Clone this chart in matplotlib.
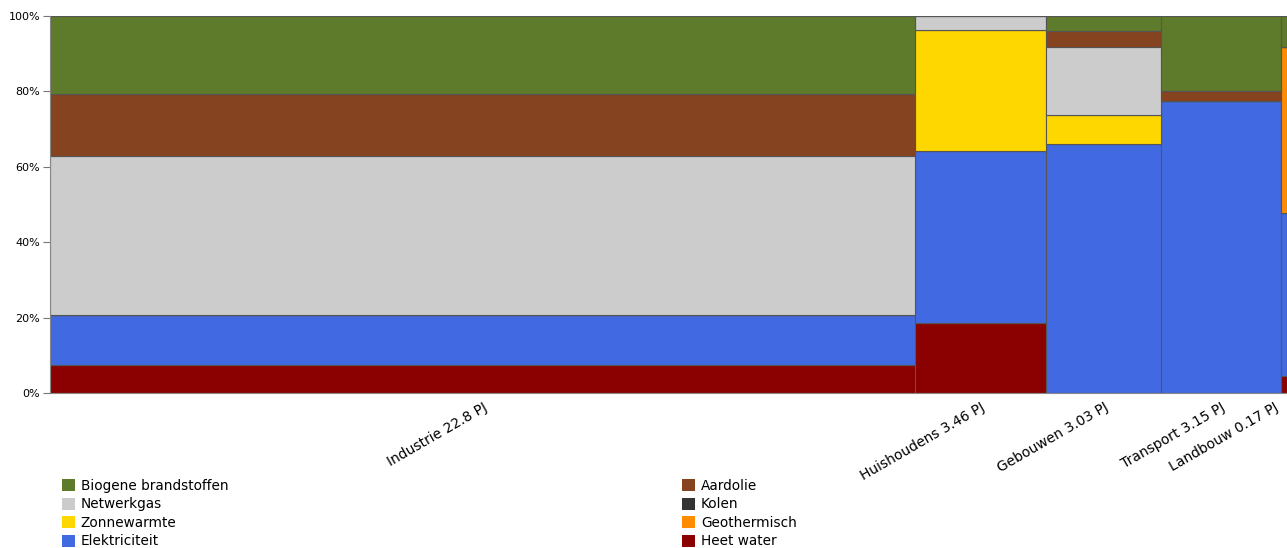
import matplotlib
matplotlib.use("Agg")
import matplotlib.pyplot as plt
from matplotlib.patches import Patch
from matplotlib.transforms import ScaledTranslation
import numpy as np

# sectors and their total energy use (PJ) -> column widths
sectors = ["Industrie", "Huishoudens", "Gebouwen", "Transport", "Landbouw"]
pj = [22.8, 3.46, 3.03, 3.15, 0.17]

# share (%) of each carrier per sector, stacked bottom -> top
heet_water = [7.4, 18.5, 0.0, 0.0, 4.5]
elektriciteit = [13.4, 45.6, 66.0, 77.5, 43.2]
geothermisch = [0.0, 0.0, 0.0, 0.0, 44.1]
zonnewarmte = [0.0, 32.2, 7.8, 0.0, 0.0]
kolen = [0.0, 0.0, 0.0, 0.0, 0.0]
netwerkgas = [42.1, 3.7, 17.9, 0.0, 0.0]
aardolie = [16.4, 0.0, 4.3, 2.5, 0.0]
biogene = [20.7, 0.0, 4.0, 20.0, 8.2]

carriers = [
    ("Heet water", heet_water, "#8b0000"),
    ("Elektriciteit", elektriciteit, "#4169e1"),
    ("Geothermisch", geothermisch, "#ff8c00"),
    ("Zonnewarmte", zonnewarmte, "#ffd700"),
    ("Kolen", kolen, "#333333"),
    ("Netwerkgas", netwerkgas, "#cccccc"),
    ("Aardolie", aardolie, "#86431f"),
    ("Biogene brandstoffen", biogene, "#5e7a2b"),
]

fig = plt.figure(figsize=(12.87, 5.48), dpi=100)
ax = fig.add_axes([50 / 1287, 155 / 548, 1237 / 1287, 377 / 548])

widths = np.array(pj)
lefts = np.concatenate([[0], np.cumsum(widths)[:-1]])
bottom = np.zeros(len(sectors))
for name, vals, col in carriers:
    v = np.array(vals) / 100
    ax.bar(lefts, v, width=widths, bottom=bottom, align="edge",
           color=col, edgecolor="#555555", linewidth=0.8)
    bottom += v

ax.set_xlim(0, widths.sum())
ax.set_ylim(0, 1)

ax.set_yticks([0, 0.2, 0.4, 0.6, 0.8, 1.0])
ax.set_yticklabels(["0%", "20%", "40%", "60%", "80%", "100%"], fontsize=8)
ax.tick_params(axis="y", length=5, color="#777777", pad=2)

centers = lefts + widths / 2
ax.set_xticks(centers)
ax.set_xticklabels([f"{s} {p} PJ" for s, p in zip(sectors, pj)],
                   rotation=30, ha="right", va="top", rotation_mode="anchor",
                   fontsize=10)
ax.tick_params(axis="x", length=0, pad=5)
# last label would run off the right edge, nudge it left a bit
last = ax.get_xticklabels()[-1]
last.set_transform(last.get_transform() + ScaledTranslation(-10 / 100, 0, fig.dpi_scale_trans))

for s in ["top", "right"]:
    ax.spines[s].set_visible(False)
for s in ["left", "bottom"]:
    ax.spines[s].set_color("#888888")

col_map = {n: c for n, _, c in carriers}
left_names = ["Biogene brandstoffen", "Netwerkgas", "Zonnewarmte", "Elektriciteit"]
right_names = ["Aardolie", "Kolen", "Geothermisch", "Heet water"]

for names, x0 in [(left_names, 55 / 1287), (right_names, 675 / 1287)]:
    handles = [Patch(facecolor=col_map[n], edgecolor="none") for n in names]
    fig.legend(handles, names, loc="upper left",
               bbox_to_anchor=(x0, 76 / 548), frameon=False,
               fontsize=9.8, handlelength=1.0, handleheight=1.0,
               handletextpad=0.4, labelspacing=0.33, borderpad=0)

fig.savefig("out.png", dpi=100)
